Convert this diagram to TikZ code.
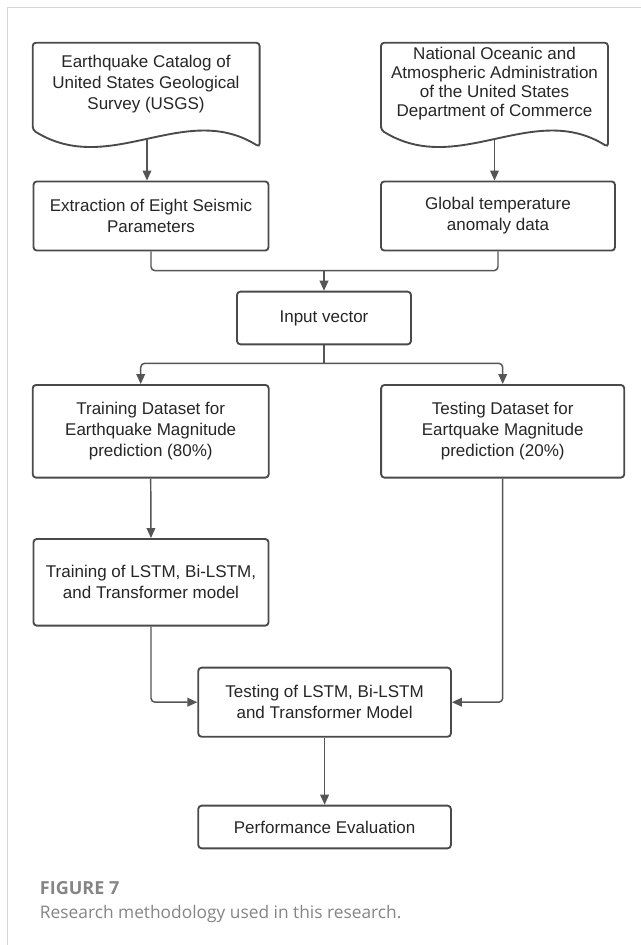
\documentclass[tikz,border=0pt]{standalone}
\usepackage{fontspec}
\setmainfont{Liberation Sans}
\newfontfamily\captionfont{Open Sans}
\usetikzlibrary{arrows.meta}
\definecolor{boxline}{HTML}{4A4A4A}
\definecolor{arrowline}{HTML}{555555}
\definecolor{captiongray}{HTML}{858585}
\definecolor{framegray}{HTML}{D6D6D6}

\begin{document}
\begin{tikzpicture}[x=0.75pt, y=-0.75pt,
    box/.style={draw=boxline, line width=1.4pt, rounded corners=2.5pt, fill=white,
      align=center, inner sep=0pt, text=black!85,
      font=\fontsize{12.75}{15.75}\selectfont},
    doctext/.style={align=center, text=black!85, font=\fontsize{12.75}{14.25}\selectfont},
    docshape/.style={draw=boxline, line width=1.4pt, rounded corners=2.5pt, fill=white},
    link/.style={draw=arrowline, line width=1.1pt, rounded corners=3pt},
    arr/.style={link, -{Triangle[length=7.5pt,width=6.5pt]}},
    captext/.style={anchor=base west, text=captiongray, inner sep=0pt}]
\useasboundingbox (0,0) rectangle (641,945);
\draw[framegray, line width=1pt] (7.3,945) -- (7.3,7.3) -- (641,7.3);

% source documents
\draw[docshape] (32.7,130) -- (32.7,42.7) -- (259.6,42.7) -- (259.6,147)
  .. controls (184.7,100) and (109.7,178) .. (32.7,130) -- cycle;
\draw[docshape] (381,130) -- (381,42.7) -- (608,42.7) -- (608,147)
  .. controls (533,100) and (458,178) .. (381,130) -- cycle;
\node[doctext, font=\fontsize{12.75}{15.75}\selectfont] (usgs) at (146,84)
  {Earthquake Catalog of\\United States Geological\\Survey (USGS)};
\node[doctext] (noaa) at (494.5,84)
  {National Oceanic and\\Atmospheric Administration\\of the United States\\Department of Commerce};
\coordinate (usgswave) at (147,139);
\coordinate (noaawave) at (494.5,139);

% process boxes
\node[box, minimum width=176.3pt, minimum height=51.8pt] (extr) at (151,216)
  {Extraction of Eight Seismic\\Parameters};
\node[box, minimum width=175.5pt, minimum height=51.8pt] (glob) at (498,216)
  {Global temperature\\anomaly data};
\node[box, minimum width=130.5pt, minimum height=39.5pt] (input) at (324,318) {Input vector};
\node[box, minimum width=177pt, minimum height=69.5pt] (trainset) at (150.7,431.3)
  {Training Dataset for\\Earthquake Magnitude\\prediction (80\%)};
\node[box, minimum width=182.3pt, minimum height=69.5pt] (testset) at (502.7,431.3)
  {Testing Dataset for\\Eartquake Magnitude\\prediction (20\%)};
\node[box, minimum width=176.3pt, minimum height=65pt] (trainmodel) at (151,582.3)
  {Training of LSTM, Bi-LSTM,\\and Transformer model};
\node[box, minimum width=189.5pt, minimum height=51.8pt] (testmodel) at (324.6,702.2)
  {Testing of LSTM, Bi-LSTM\\and Transformer Model};
\node[box, minimum width=189.5pt, minimum height=32pt] (perf) at (324.6,827)
  {Performance Evaluation};

% connectors
\coordinate (join) at (324,270.7);
\coordinate (split) at (324,363.3);
\draw[arr] (usgswave) -- (usgswave |- extr.north);
\draw[arr] (noaawave) -- (noaawave |- glob.north);
\draw[link] (extr.south) |- (join) -| (glob.south);
\draw[arr] (join) -- (input.north);
\draw[link] (input.south) -- (split);
\draw[arr] (split) -| ([xshift=-7.5pt]trainset.north);
\draw[arr] (split) -| (testset.north);
\draw[arr] (trainset.south) -- (trainmodel.north);
\draw[arr] (trainmodel.south) |- (testmodel.west);
\draw[arr] (testset.south) |- (testmodel.east);
\draw[arr] (testmodel.south) -- (perf.north);

% caption
\node[captext, font=\captionfont\bfseries\fontsize{13.5}{16}\selectfont] (fignum) at (39.7,894) {FIGURE 7};
\node[captext, font=\captionfont\fontsize{13}{16}\selectfont] (figcap) at (39.7,918)
  {Research methodology used in this research.};
\end{tikzpicture}
\end{document}
